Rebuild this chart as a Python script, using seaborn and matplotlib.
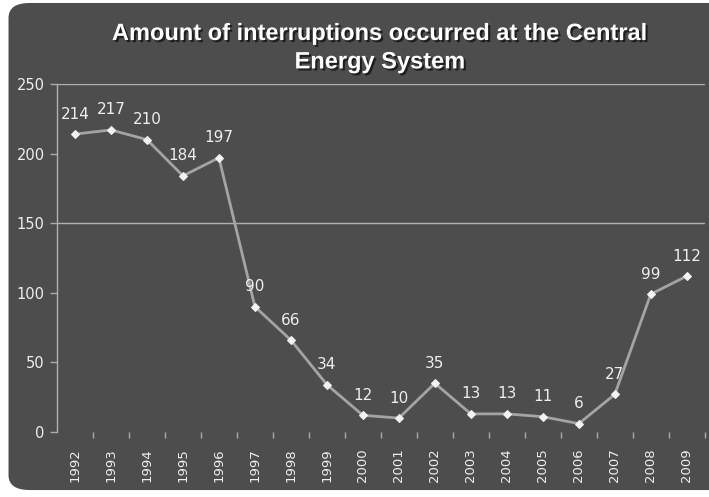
import matplotlib
matplotlib.use("Agg")
import matplotlib.pyplot as plt
from matplotlib.patches import FancyBboxPatch
import matplotlib.patheffects as pe
import seaborn as sns
import pandas as pd

# data
years = ['1992', '1993', '1994', '1995', '1996', '1997', '1998', '1999', '2000',
         '2001', '2002', '2003', '2004', '2005', '2006', '2007', '2008', '2009']
interruptions = [214, 217, 210, 184, 197, 90, 66, 34, 12, 10, 35, 13, 13, 11, 6, 27, 99, 112]
title = 'Amount of interruptions occurred at the Central\nEnergy System'

df = pd.DataFrame({'year': years, 'value': interruptions})

bg = '#4d4d4d'
txt = '#eeeeee'

sns.set_theme(style='dark')
plt.rcParams['font.family'] = ['DejaVu Sans']

fig = plt.figure(figsize=(7.09, 4.97), dpi=100)
fig.patch.set_facecolor('white')
fig.patches.append(FancyBboxPatch((0.012, 0.014), 1.05, 0.98, boxstyle='round,pad=0,rounding_size=0.03',
                                  transform=fig.transFigure, facecolor=bg, edgecolor='none', zorder=-5))

ax = fig.add_axes([0.0804, 0.1308, 0.9136, 0.7002])
ax.set_zorder(2)
ax.set_facecolor(bg)

x = list(range(len(years)))
sns.lineplot(x=x, y=df['value'], ax=ax, color='#a4a4a4', lw=2, marker='D', markersize=4,
             markerfacecolor='#f2f2f2', markeredgecolor='#f2f2f2')

for xi, v in zip(x, interruptions):
    ax.annotate(str(v), (xi, v), xytext=(0, 9), textcoords='offset points',
                ha='center', va='bottom', color=txt, fontsize=11)

ax.set_xlim(-0.5, len(years) - 0.5)
ax.set_ylim(0, 250)
ax.set_yticks([0, 50, 100, 150, 200, 250])
ax.set_xticks(x)
ax.set_xticklabels(years, rotation=90)
ax.set_xticks([i + 0.5 for i in x], minor=True)
ax.tick_params(axis='x', which='major', bottom=False, length=0, colors=txt, labelsize=9.5, pad=12)
ax.tick_params(axis='x', which='minor', bottom=True, length=4, width=1, color='#aaaaaa', direction='out')
ax.tick_params(axis='y', left=True, length=5, width=1, color='#aaaaaa', colors=txt, labelsize=10.5, pad=4)
for t in ax.get_yticklabels():
    t.set_color(txt)

for yl in [150, 250]:
    ax.axhline(yl, color='#b0b0b0', lw=1, zorder=0)

for s in ['top', 'right', 'bottom']:
    ax.spines[s].set_visible(False)
ax.spines['left'].set_color('#b0b0b0')
ax.spines['left'].set_linewidth(1)
ax.set_xlabel('')
ax.set_ylabel('')
ax.grid(False)

fig.text(0.536, 0.904, title, ha='center', va='center', color='white', fontsize=17,
         fontweight='bold', family=['Liberation Sans', 'DejaVu Sans'], linespacing=1.3,
         path_effects=[pe.withSimplePatchShadow(offset=(1.5, -1.5), shadow_rgbFace='black', alpha=0.6)])

fig.savefig('out.png', dpi=100, facecolor=fig.get_facecolor())
